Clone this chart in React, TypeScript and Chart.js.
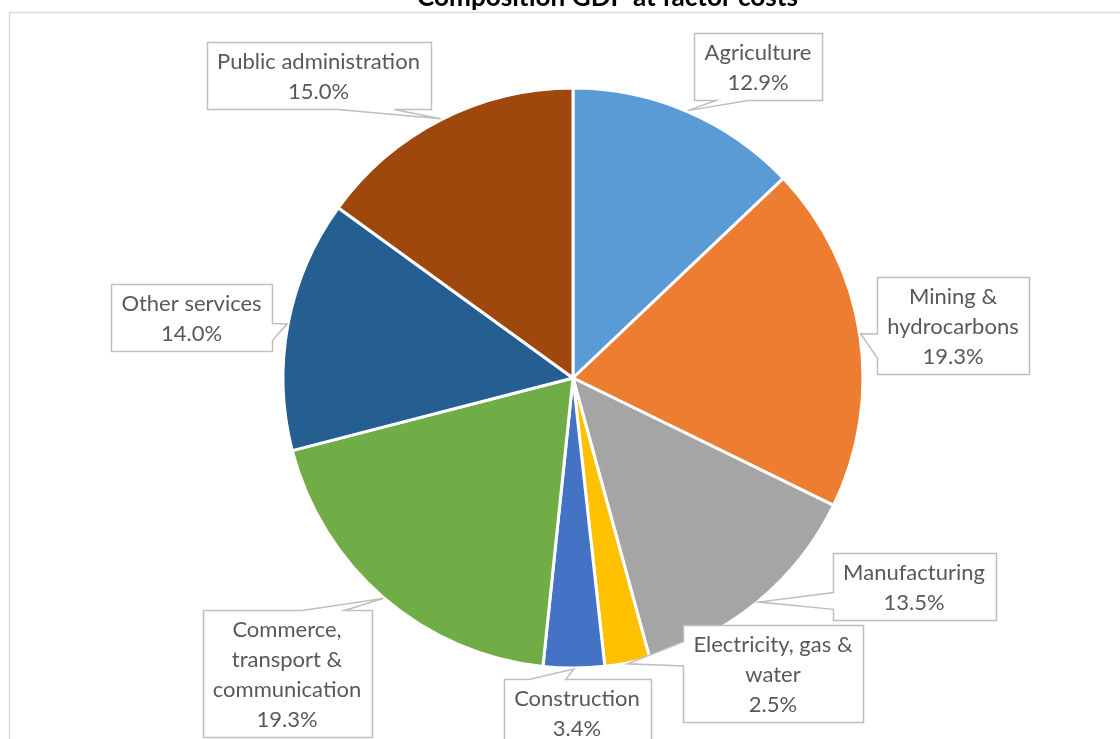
import React, { useEffect, useRef } from "react";
import { Chart, registerables } from "chart.js";

Chart.register(...registerables);

// ---------- data ----------
const TITLE = "Composition GDP at factor costs";
const CATEGORIES = [
  "Agriculture",
  "Mining & hydrocarbons",
  "Manufacturing",
  "Electricity, gas & water",
  "Construction",
  "Commerce, transport & communication",
  "Other services",
  "Public administration",
];
const LABEL_LINES = [
  ["Agriculture"],
  ["Mining &", "hydrocarbons"],
  ["Manufacturing"],
  ["Electricity, gas &", "water"],
  ["Construction"],
  ["Commerce,", "transport &", "communication"],
  ["Other services"],
  ["Public administration"],
];
const SHARES = [12.9, 19.3, 13.5, 2.5, 3.4, 19.3, 14.0, 15.0];
const COLORS = ["#5B9BD5", "#ED7D31", "#A5A5A5", "#FFC000", "#4472C4", "#70AD47", "#255E91", "#9E480E"];

// ---------- layout (callout box centres relative to pie centre) ----------
const CALLOUT_OFFSETS: [number, number][] = [
  [185, -311.5],
  [380, -53],
  [341, 208.5],
  [200, 295.5],
  [4, 334.5],
  [-286, 295],
  [-381.5, -61],
  [-254.5, -302.5],
];

const FONT_FAMILY = "Lato, 'Open Sans', sans-serif";
const LINE_H = 30;

function fitSize(ctx: CanvasRenderingContext2D, text: string, target: number, weight: string) {
  ctx.font = `${weight} 20px ${FONT_FAMILY}`;
  const w = ctx.measureText(text).width;
  return (20 * target) / w;
}

function calloutPath(ctx: CanvasRenderingContext2D, l: number, t: number, w: number, h: number, px: number, py: number) {
  const r = l + w, b = t + h, hc = l + w / 2, vc = t + h / 2;
  const dxPos = px - hc, dyPos = py - vc;
  const dq = (dxPos * h) / w;
  const dz = Math.abs(dyPos) - Math.abs(dq);
  const x1 = l + (w * (dxPos > 0 ? 7 : 2)) / 12;
  const x2 = l + (w * (dxPos > 0 ? 10 : 5)) / 12;
  const y1 = t + (h * (dyPos > 0 ? 7 : 2)) / 12;
  const y2 = t + (h * (dyPos > 0 ? 10 : 5)) / 12;
  ctx.beginPath();
  ctx.moveTo(l, t);
  if (dz > 0 && dyPos < 0) { ctx.lineTo(x1, t); ctx.lineTo(px, py); ctx.lineTo(x2, t); }
  ctx.lineTo(r, t);
  if (dz <= 0 && dxPos > 0) { ctx.lineTo(r, y1); ctx.lineTo(px, py); ctx.lineTo(r, y2); }
  ctx.lineTo(r, b);
  if (dz > 0 && dyPos > 0) { ctx.lineTo(x2, b); ctx.lineTo(px, py); ctx.lineTo(x1, b); }
  ctx.lineTo(l, b);
  if (dz <= 0 && dxPos < 0) { ctx.lineTo(l, y2); ctx.lineTo(px, py); ctx.lineTo(l, y1); }
  ctx.closePath();
}

const decorPlugin = {
  id: "decor",
  beforeDraw(chart: any) {
    const ctx: CanvasRenderingContext2D = chart.ctx;
    ctx.save();
    ctx.fillStyle = "#ffffff";
    ctx.fillRect(0, 0, chart.width, chart.height);
    ctx.strokeStyle = "#d9d9d9";
    ctx.lineWidth = 1.5;
    ctx.strokeRect(9.5, 12.5, chart.width + 40, chart.height + 40);
    const ts = fitSize(ctx, TITLE, 381, "bold");
    ctx.font = `bold ${ts}px ${FONT_FAMILY}`;
    ctx.fillStyle = "#000000";
    ctx.textAlign = "center";
    ctx.textBaseline = "alphabetic";
    ctx.fillText(TITLE, 607.5, 6);
    ctx.restore();
  },
  afterDatasetsDraw(chart: any) {
    const ctx: CanvasRenderingContext2D = chart.ctx;
    const meta = chart.getDatasetMeta(0);
    const fs = fitSize(ctx, "Public administration", 203, "normal");
    ctx.save();
    meta.data.forEach((arc: any, i: number) => {
      const { x, y, startAngle, endAngle, outerRadius } = arc.getProps(
        ["x", "y", "startAngle", "endAngle", "outerRadius"],
        true
      );
      const mid = (startAngle + endAngle) / 2;
      const tipX = x + Math.cos(mid) * (outerRadius + 1);
      const tipY = y + Math.sin(mid) * (outerRadius + 1);
      const lines = [...LABEL_LINES[i], SHARES[i].toFixed(1) + "%"];
      ctx.font = `normal ${fs}px ${FONT_FAMILY}`;
      const tw = Math.max(...lines.map((s) => ctx.measureText(s).width));
      const w = Math.round(tw + 21);
      const h = LINE_H * lines.length + 7;
      const cx = x + CALLOUT_OFFSETS[i][0];
      const cy = y + CALLOUT_OFFSETS[i][1];
      const l = Math.round(cx - w / 2) + 0.5;
      const t = Math.round(cy - h / 2) + 0.5;
      calloutPath(ctx, l, t, w, h, tipX, tipY);
      ctx.fillStyle = "#ffffff";
      ctx.fill();
      ctx.strokeStyle = "#bfbfbf";
      ctx.lineWidth = 1.5;
      ctx.stroke();
      ctx.fillStyle = "#595959";
      ctx.textAlign = "center";
      ctx.textBaseline = "middle";
      lines.forEach((s, k) => {
        const ly = cy - ((lines.length - 1) * LINE_H) / 2 + k * LINE_H + 1.5;
        ctx.fillText(s, cx, ly);
      });
    });
    ctx.restore();
  },
};

export default function App() {
  const canvasRef = useRef<HTMLCanvasElement | null>(null);

  useEffect(() => {
    const canvas = canvasRef.current;
    if (!canvas) return;
    const chart = new Chart(canvas, {
      type: "pie",
      data: {
        labels: CATEGORIES,
        datasets: [
          {
            data: SHARES,
            backgroundColor: COLORS,
            borderColor: "#ffffff",
            borderWidth: 3,
          },
        ],
      },
      options: {
        responsive: false,
        animation: false,
        devicePixelRatio: 1,
        radius: 290,
        layout: { padding: { left: 26, right: 0, top: 17, bottom: 0 } },
        plugins: {
          legend: { display: false },
          title: { display: false },
          tooltip: { enabled: false },
        },
        events: [],
      } as any,
      plugins: [decorPlugin],
    });
    if ((document as any).fonts && (document as any).fonts.load) {
      Promise.all([
        (document as any).fonts.load(`20px Lato`),
        (document as any).fonts.load(`bold 20px Lato`),
      ]).then(() => chart.draw()).catch(() => {});
    }
    return () => chart.destroy();
  }, []);

  return (
    <div style={{ position: "absolute", left: 0, top: 0, width: 1120, height: 739, overflow: "hidden", background: "#fff" }}>
      <canvas ref={canvasRef} width={1120} height={739} style={{ display: "block", width: 1120, height: 739 }} />
    </div>
  );
}
